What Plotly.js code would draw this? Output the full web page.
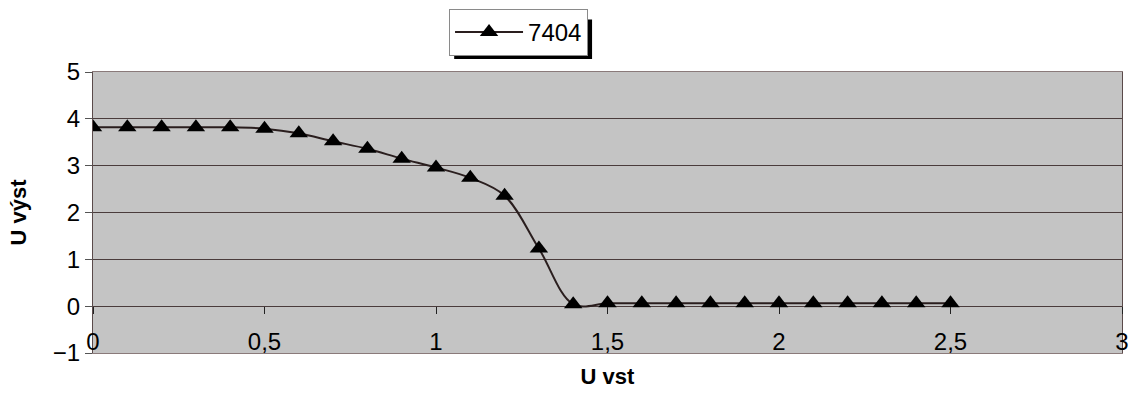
<!DOCTYPE html>
<html>
<head>
<meta charset="utf-8">
<script src="https://cdn.plot.ly/plotly-3.0.1.min.js"></script>
<style>html,body{margin:0;padding:0;background:#fff;}#chart{width:1131px;height:412px;}</style>
</head>
<body>
<div id="chart"></div>
<script>
var seriesName = "7404";
var uVst = [0, 0.1, 0.2, 0.3, 0.4, 0.5, 0.6, 0.7, 0.8, 0.9, 1.0, 1.1, 1.2, 1.3, 1.4, 1.5, 1.6, 1.7, 1.8, 1.9, 2.0, 2.1, 2.2, 2.3, 2.4, 2.5];
var uVyst = [3.82, 3.82, 3.82, 3.82, 3.82, 3.79, 3.69, 3.52, 3.36, 3.15, 2.96, 2.74, 2.36, 1.23, 0.04, 0.06, 0.06, 0.06, 0.06, 0.06, 0.06, 0.06, 0.06, 0.06, 0.06, 0.06];
var xTickVals = [0, 0.5, 1, 1.5, 2, 2.5, 3];
var xTickText = ["0", "0,5", "1", "1,5", "2", "2,5", "3"];
var yTickVals = [-1, 0, 1, 2, 3, 4, 5];
var xTitle = "U vst";
var yTitle = "U výst";

var font = "Arial, 'Liberation Sans', sans-serif";
var gridCol = "#4a3c3c";

var traces = [{
  x: uVst, y: uVyst, name: seriesName, type: "scatter", mode: "lines+markers",
  line: {color: "#2a1e1e", width: 2, shape: "spline", smoothing: 1},
  marker: {symbol: "triangle-up", size: 16, color: "#000"}
}, {
  x: uVst, y: uVyst, xaxis: "x2", type: "scatter", mode: "none",
  showlegend: false, hoverinfo: "skip"
}];

var layout = {
  width: 1131, height: 412,
  margin: {l: 93, r: 9, t: 70, b: 59},
  paper_bgcolor: "#ffffff",
  plot_bgcolor: "#c4c4c4",
  font: {family: font, size: 24, color: "#000"},
  showlegend: true,
  legend: {
    x: 0.346, y: 1.225, xanchor: "left", yanchor: "top",
    bgcolor: "#ffffff", bordercolor: "#8a8a8a", borderwidth: 1,
    itemwidth: 68,
    font: {family: font, size: 24, color: "#000"}
  },
  xaxis: {
    range: [0, 3], tickvals: xTickVals, ticktext: xTickText,
    showgrid: false, zeroline: false, ticks: "",
    ticklabelposition: "inside", ticklabeloverflow: "allow",
    showline: true, mirror: true, linecolor: "#8a7a7a", linewidth: 1,
    tickfont: {family: font, size: 24, color: "#000"},
    title: {text: xTitle, font: {family: font, size: 22, color: "#000", weight: "bold"}, standoff: 14}
  },
  xaxis2: {
    overlaying: "x", anchor: "free", position: 1/6, range: [0, 3],
    tickvals: xTickVals, showticklabels: false, ticks: "outside", ticklen: 7, tickwidth: 1,
    tickcolor: "#222", showgrid: false, zeroline: false, showline: false
  },
  yaxis: {
    range: [-1, 5], tickvals: yTickVals,
    showgrid: true, gridcolor: gridCol, gridwidth: 1, zeroline: false,
    ticks: "outside", ticklen: 7, tickcolor: "#555",
    showline: true, mirror: true, linecolor: "#5a4a4a", linewidth: 1,
    tickfont: {family: font, size: 24, color: "#000"},
    title: {text: yTitle, font: {family: font, size: 22, color: "#000", weight: "bold"}, standoff: 20}
  },
  shapes: [{
    type: "rect", xref: "paper", yref: "paper", layer: "above",
    x0: 0.351, x1: 0.485, y0: 1.046, y1: 1.187,
    fillcolor: "#000", line: {width: 0}
  }]
};

Plotly.newPlot("chart", traces, layout, {displayModeBar: false, staticPlot: true});
</script>
</body>
</html>
